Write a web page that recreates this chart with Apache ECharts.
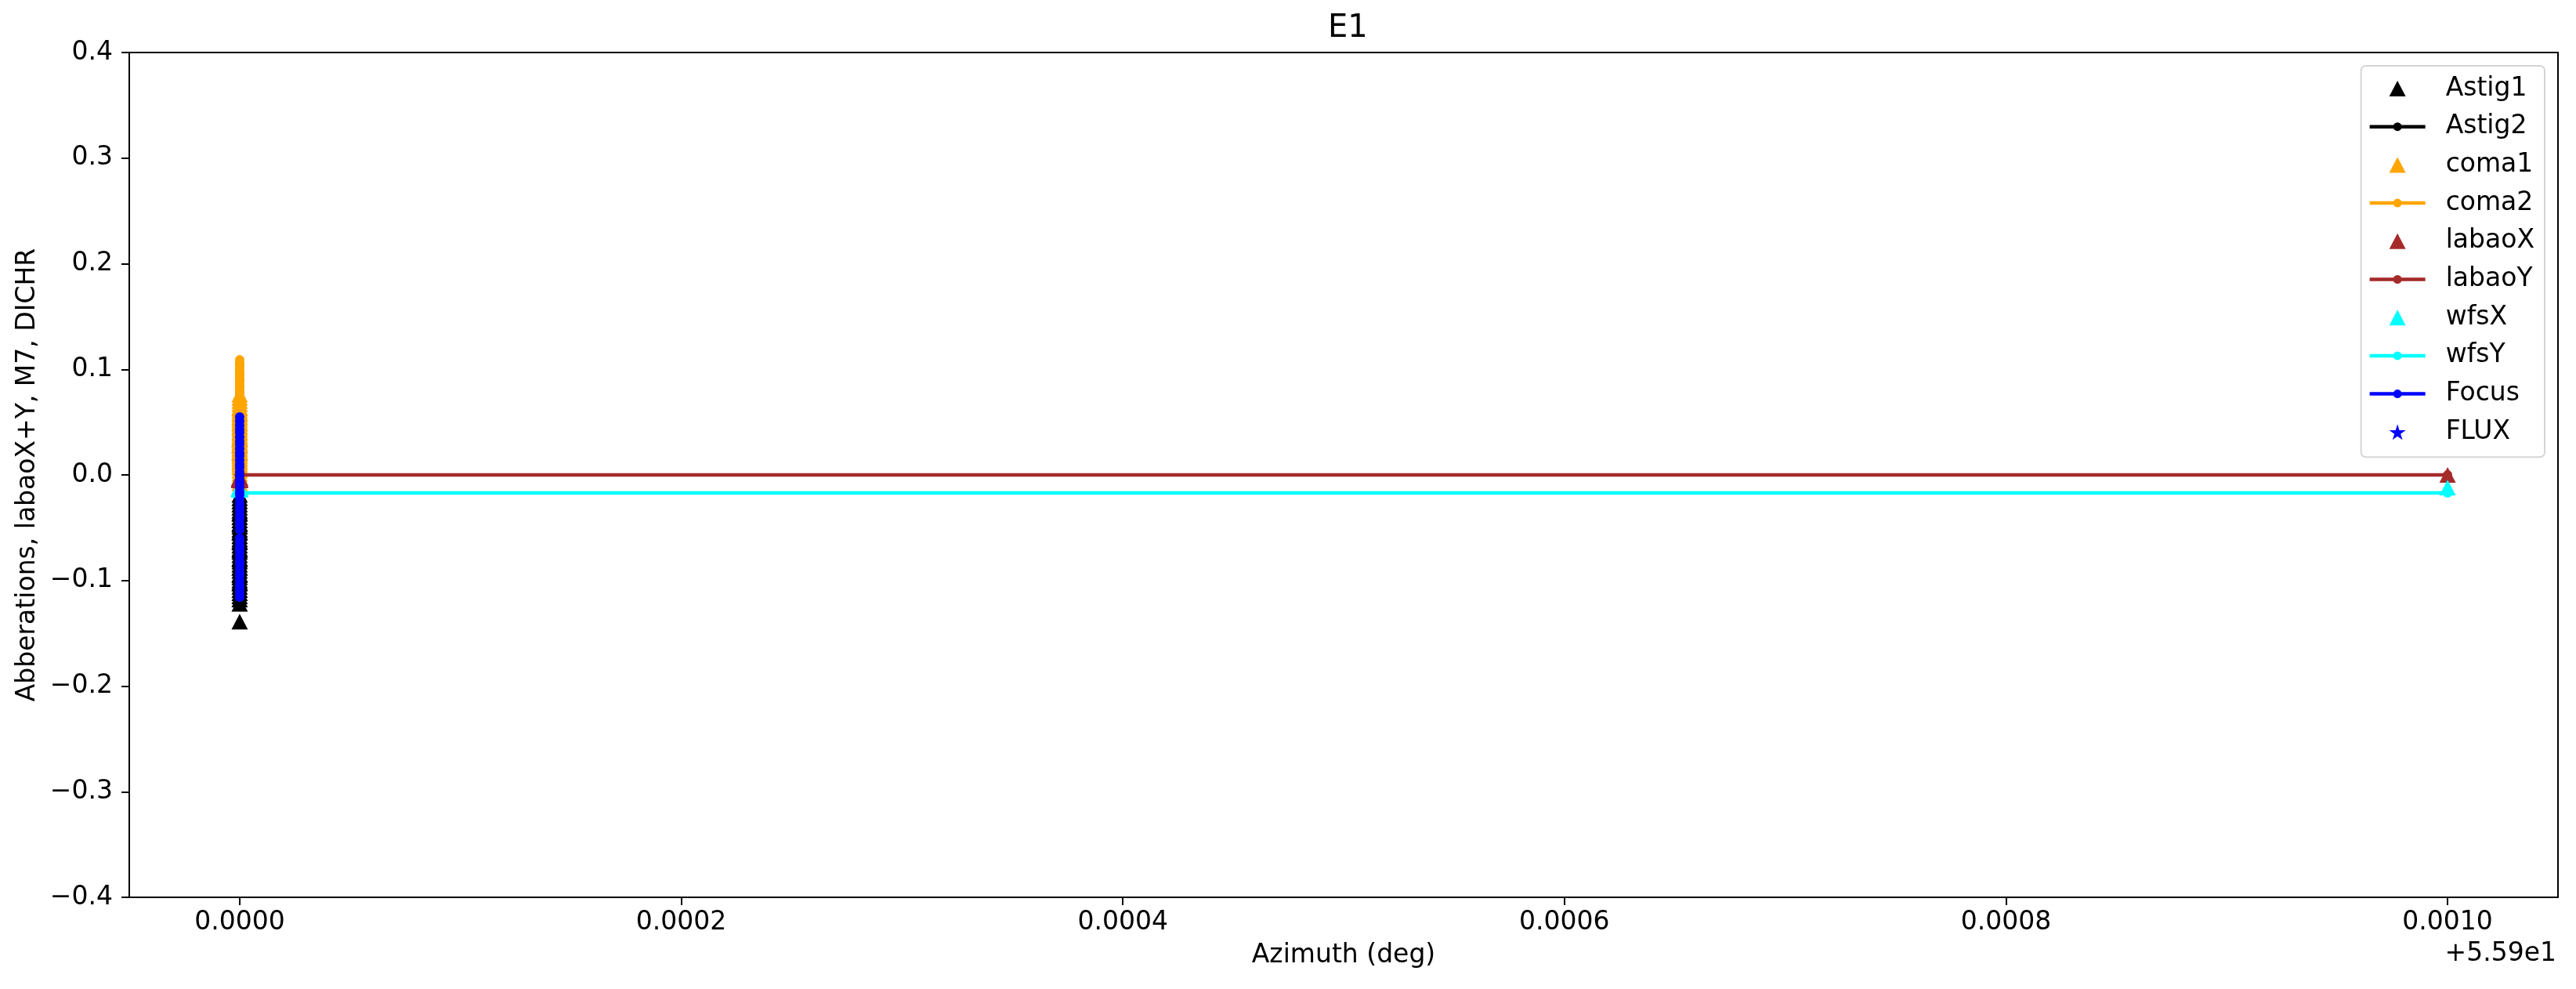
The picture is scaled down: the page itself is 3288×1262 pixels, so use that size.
<!DOCTYPE html>
<html>
<head>
<meta charset="utf-8">
<script src="https://cdn.jsdelivr.net/npm/echarts@6/dist/echarts.min.js"></script>
<style>
  html, body { margin: 0; padding: 0; background: #ffffff; }
  #chart { width: 3288px; height: 1262px; }
</style>
</head>
<body>
<div id="chart"></div>
<script>
// ---------------- data ----------------
const AZ_OFFSET = 55.9;              // shown as "+5.59e1"
// 48 samples at azimuth 55.9000, then one at 55.9010
const azimuth = [
  55.9, 55.9, 55.9, 55.9, 55.9, 55.9, 55.9, 55.9, 55.9, 55.9, 55.9, 55.9,
  55.9, 55.9, 55.9, 55.9, 55.9, 55.9, 55.9, 55.9, 55.9, 55.9, 55.9, 55.9,
  55.9, 55.9, 55.9, 55.9, 55.9, 55.9, 55.9, 55.9, 55.9, 55.9, 55.9, 55.9,
  55.9, 55.9, 55.9, 55.9, 55.9, 55.9, 55.9, 55.9, 55.9, 55.9, 55.9, 55.9,
  55.901];

const astig1 = [
  -0.019, -0.022, -0.025, -0.028, -0.031, -0.034, -0.037, -0.040, -0.043, -0.046, -0.049, -0.052,
  -0.055, -0.058, -0.061, -0.064, -0.067, -0.070, -0.073, -0.076, -0.079, -0.082, -0.085, -0.088,
  -0.091, -0.094, -0.097, -0.100, -0.103, -0.106, -0.109, -0.112, -0.115, -0.118, -0.122, -0.139,
  0.021, 0.028, 0.034, -0.047, -0.063, -0.071, -0.088, -0.095, -0.036, -0.054, -0.102, -0.080,
  null];
const astig2 = [
  -0.030, -0.035, -0.042, -0.050, -0.048, -0.056, -0.062, -0.070, -0.066, -0.074, -0.080, -0.086,
  -0.092, -0.088, -0.095, -0.101, -0.107, -0.112, -0.118, -0.110, -0.104, -0.097, -0.090, -0.083,
  -0.077, -0.071, -0.065, -0.058, -0.052, -0.045, -0.039, -0.033, -0.027, -0.024, -0.031, -0.038,
  -0.046, -0.055, -0.064, -0.073, -0.082, -0.091, -0.099, -0.106, -0.113, -0.119, -0.108, -0.094,
  null];
const coma1 = [
  -0.008, -0.005, -0.002, 0.001, 0.004, 0.007, 0.010, 0.013, 0.016, 0.019, 0.022, 0.025,
  0.028, 0.031, 0.034, 0.037, 0.040, 0.043, 0.046, 0.049, 0.052, 0.055, 0.058, 0.061,
  0.064, 0.067, 0.070, 0.073, 0.076, 0.012, 0.027, 0.041, 0.050, 0.033, 0.018, 0.059,
  0.045, 0.008, 0.024, 0.036, 0.054, 0.063, 0.030, 0.015, 0.048, 0.039, 0.021, 0.057,
  null];
const coma2 = [
  0.109, 0.106, 0.103, 0.100, 0.097, 0.094, 0.091, 0.088, 0.085, 0.082, 0.079, 0.076,
  0.072, 0.068, 0.064, 0.060, 0.056, 0.052, 0.048, 0.044, 0.040, 0.036, 0.032, 0.028,
  0.024, 0.020, 0.016, 0.012, 0.008, 0.004, 0.010, 0.022, 0.034, 0.046, 0.058, 0.070,
  0.083, 0.095, 0.104, 0.090, 0.078, 0.066, 0.054, 0.042, 0.030, 0.018, 0.026, 0.038,
  null];
const labaoX = [
  -0.004, -0.003, -0.005, -0.004, -0.004, -0.003, -0.005, -0.004, -0.004, -0.003, -0.004, -0.005,
  -0.004, -0.003, -0.004, -0.004, -0.005, -0.004, -0.003, -0.004, -0.004, -0.005, -0.004, -0.003,
  -0.004, -0.004, -0.003, -0.005, -0.004, -0.004, -0.003, -0.004, -0.005, -0.004, -0.004, -0.003,
  -0.004, -0.005, -0.004, -0.004, -0.003, -0.004, -0.004, -0.005, -0.004, -0.003, -0.004, -0.004,
  0.000];
const labaoY = [
  0.000, 0.000, 0.000, 0.000, 0.000, 0.000, 0.000, 0.000, 0.000, 0.000, 0.000, 0.000,
  0.000, 0.000, 0.000, 0.000, 0.000, 0.000, 0.000, 0.000, 0.000, 0.000, 0.000, 0.000,
  0.000, 0.000, 0.000, 0.000, 0.000, 0.000, 0.000, 0.000, 0.000, 0.000, 0.000, 0.000,
  0.000, 0.000, 0.000, 0.000, 0.000, 0.000, 0.000, 0.000, 0.000, 0.000, 0.000, 0.000,
  0.000];
const wfsX = [
  -0.013, -0.012, -0.013, -0.014, -0.013, -0.013, -0.012, -0.013, -0.014, -0.013, -0.013, -0.012,
  -0.013, -0.013, -0.014, -0.013, -0.012, -0.013, -0.013, -0.014, -0.013, -0.012, -0.013, -0.013,
  -0.013, -0.014, -0.013, -0.012, -0.013, -0.013, -0.014, -0.013, -0.013, -0.012, -0.013, -0.013,
  -0.014, -0.013, -0.012, -0.013, -0.013, -0.013, -0.014, -0.013, -0.012, -0.013, -0.013, -0.013,
  -0.012];
const wfsY = [
  -0.017, -0.017, -0.017, -0.017, -0.017, -0.017, -0.017, -0.017, -0.017, -0.017, -0.017, -0.017,
  -0.017, -0.017, -0.017, -0.017, -0.017, -0.017, -0.017, -0.017, -0.017, -0.017, -0.017, -0.017,
  -0.017, -0.017, -0.017, -0.017, -0.017, -0.017, -0.017, -0.017, -0.017, -0.017, -0.017, -0.017,
  -0.017, -0.017, -0.017, -0.017, -0.017, -0.017, -0.017, -0.017, -0.017, -0.017, -0.017, -0.017,
  -0.017];
const focus = [
  0.055, 0.051, 0.047, 0.043, 0.040, 0.036, 0.032, 0.029, 0.025, 0.021, 0.018, 0.014,
  0.010, 0.007, 0.003, -0.001, -0.005, -0.008, -0.012, -0.016, -0.019, -0.023, -0.027, -0.030,
  -0.034, -0.038, -0.041, -0.045, -0.049, -0.052, -0.060, -0.063, -0.067, -0.071, -0.074, -0.078,
  -0.082, -0.085, -0.089, -0.093, -0.096, -0.100, -0.104, -0.107, -0.111, -0.114, -0.116, -0.069,
  null];
const flux = [
  -0.031, -0.044, -0.052, -0.067, -0.075, -0.038, -0.061, -0.083, -0.047, -0.070, -0.058, -0.035,
  -0.079, -0.064, -0.041, -0.088, -0.050, -0.072, -0.057, -0.066, -0.043, -0.081, -0.054, -0.069,
  -0.036, -0.062, -0.077, -0.048, -0.085, -0.059, -0.040, -0.073, -0.053, -0.068, -0.045, -0.080,
  -0.056, -0.063, -0.039, -0.074, -0.051, -0.086, -0.060, -0.046, -0.071, -0.055, -0.065, -0.049,
  null];

const xTicks = [0, 0.0002, 0.0004, 0.0006, 0.0008, 0.0010];

// ---------------- build ----------------
const FONT = 'DejaVu Sans';
const pts = ys => azimuth.map((a, i) => [a - AZ_OFFSET, ys[i]]);

const LINE_ICON = 'path://M0,3.25 L30.6,3.25 L30.6,7.75 L0,7.75 Z M40.4,3.25 L71,3.25 L71,7.75 L40.4,7.75 Z M30,5.5 A5.5,5.5 0 1,1 41,5.5 A5.5,5.5 0 1,1 30,5.5 Z';
const TRI = 'path://M10.5,0 L21,20 L0,20 Z';
const STAR = 'path://M50,0 L61,35 L98,35 L68,57 L79,91 L50,70 L21,91 L32,57 L2,35 L39,35 Z';

function scatterSeries(name, ys, color, symbol, size) {
  return {
    name, type: 'scatter', data: pts(ys), symbol, symbolSize: size,
    itemStyle: { color, borderWidth: 0, opacity: 1 }, emphasis: { disabled: true }
  };
}
function lineSeries(name, ys, color) {
  return {
    name, type: 'line', data: pts(ys), symbol: 'circle', symbolSize: 12, showSymbol: true,
    showAllSymbol: true, connectNulls: false,
    lineStyle: { color, width: 4.5 },
    itemStyle: { color, borderWidth: 0 }, emphasis: { disabled: true }
  };
}

const series = [
  scatterSeries('Astig1', astig1, '#000000', TRI, [21, 20]),
  lineSeries('Astig2', astig2, '#000000'),
  scatterSeries('coma1', coma1, '#ffa500', TRI, [21, 20]),
  lineSeries('coma2', coma2, '#ffa500'),
  scatterSeries('labaoX', labaoX, '#a52a2a', TRI, [21, 20]),
  lineSeries('labaoY', labaoY, '#a52a2a'),
  scatterSeries('wfsX', wfsX, '#00ffff', TRI, [21, 20]),
  lineSeries('wfsY', wfsY, '#00ffff'),
  lineSeries('Focus', focus, '#0000ff'),
  scatterSeries('FLUX', flux, '#0000ff', STAR, 12)
];

const legendData = [
  { name: 'Astig1', icon: TRI },
  { name: 'Astig2', icon: LINE_ICON },
  { name: 'coma1', icon: TRI },
  { name: 'coma2', icon: LINE_ICON },
  { name: 'labaoX', icon: TRI },
  { name: 'labaoY', icon: LINE_ICON },
  { name: 'wfsX', icon: TRI },
  { name: 'wfsY', icon: LINE_ICON },
  { name: 'Focus', icon: LINE_ICON },
  { name: 'FLUX', icon: STAR }
];

const fmtY = v => (v < -1e-9 ? '\u2212' + Math.abs(v).toFixed(1) : Math.abs(v).toFixed(1));

const chart = echarts.init(document.getElementById('chart'), null, { renderer: 'canvas' });
chart.setOption({
  animation: false,
  backgroundColor: '#ffffff',
  textStyle: { fontFamily: FONT },
  title: {
    text: 'E1', left: 1690, top: 12,
    textStyle: { fontFamily: FONT, fontSize: 40, fontWeight: 'normal', color: '#000' }
  },
  grid: {
    left: 165, right: 23, top: 67, bottom: 117, containLabel: false,
    show: true, borderColor: '#000', borderWidth: 2, backgroundColor: 'transparent'
  },
  legend: {
    orient: 'vertical', right: 40, top: 84,
    padding: [12.5, 13, 15.5, 11],
    itemWidth: 71, itemHeight: 20, itemGap: 15.7,
    selectedMode: false, symbolKeepAspect: true,
    borderColor: '#d5d5d5', borderWidth: 2, borderRadius: 6, backgroundColor: '#ffffff',
    itemStyle: { borderWidth: 0 },
    textStyle: { fontFamily: FONT, fontSize: 33, lineHeight: 33, color: '#000', padding: [0, 0, 0, 21] },
    data: legendData
  },
  xAxis: {
    type: 'value', min: -0.00005, max: 0.00105,
    name: 'Azimuth (deg)', nameLocation: 'middle', nameGap: 58,
    nameTextStyle: { fontFamily: FONT, fontSize: 33, color: '#000' },
    axisLine: { show: true, onZero: false, lineStyle: { color: '#000', width: 2 } },
    axisTick: { show: true, inside: false, length: 10, lineStyle: { color: '#000', width: 2 }, customValues: xTicks },
    axisLabel: { show: true, margin: 16, fontFamily: FONT, fontSize: 33, color: '#000',
                 customValues: xTicks, formatter: v => Math.abs(v).toFixed(4) },
    splitLine: { show: false }
  },
  yAxis: {
    type: 'value', min: -0.4, max: 0.4, interval: 0.1,
    name: 'Abberations, labaoX+Y, M7, DICHR', nameLocation: 'middle', nameGap: 113, nameRotate: 90,
    nameTextStyle: { fontFamily: FONT, fontSize: 33, color: '#000' },
    axisLine: { show: true, onZero: false, lineStyle: { color: '#000', width: 2 } },
    axisTick: { show: true, inside: false, length: 10, lineStyle: { color: '#000', width: 2 } },
    axisLabel: { show: true, margin: 21, fontFamily: FONT, fontSize: 33, color: '#000', formatter: fmtY },
    splitLine: { show: false }
  },
  graphic: [{
    type: 'text', right: 25, top: 1201,
    style: { text: '+5.59e1', font: '33px "DejaVu Sans"', fill: '#000' }
  }],
  series
});
</script>
</body>
</html>
